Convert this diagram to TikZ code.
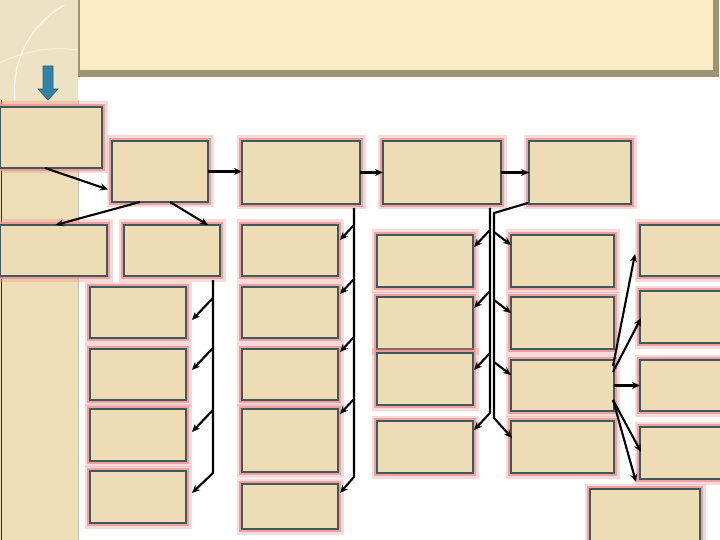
\documentclass[tikz,border=0pt]{standalone}
\usetikzlibrary{arrows.meta,calc}
\definecolor{cellfill}{RGB}{238,220,180}
\definecolor{cellline}{RGB}{62,90,94}
\definecolor{glow}{RGB}{240,150,150}
\definecolor{stripfill}{RGB}{238,222,184}
\definecolor{panelfill}{RGB}{238,226,196}
\definecolor{bannerfill}{RGB}{252,236,198}
\definecolor{bannershade}{RGB}{160,146,116}
\definecolor{arrowblue}{RGB}{48,132,172}
\begin{document}
\begin{tikzpicture}[x=1pt,y=-1pt,
  cell/.style={draw=cellline, line width=1.8pt, fill=cellfill, inner sep=0pt, outer sep=0pt,
    minimum width=96, minimum height=51,
    preaction={draw=glow, line width=11pt, opacity=0.35},
    preaction={draw=glow, line width=6pt, opacity=0.85}},
  arr/.style={line width=2.1pt, -{Stealth[length=8pt,width=7pt]}}]
\useasboundingbox (0,0) rectangle (720,540);
\fill[white] (0,0) rectangle (720,540);
\fill[stripfill] (0,0) rectangle (78,540);
\fill[panelfill] (0,0) rectangle (78,100);
\begin{scope}
  \clip (0,0) rectangle (78,100);
  \draw[white, opacity=0.7, line width=1.2pt] (15,100) arc[start angle=174, end angle=241, radius=97];
  \draw[white, opacity=0.5, line width=1pt] (0,63) arc[start angle=243, end angle=280, radius=131];
\end{scope}
\draw[black!70!brown, line width=1pt] (1,100) -- (1,540);
\draw[bannershade!60, line width=1pt] (78,100) -- (78,540);
\fill[bannershade] (78,0) rectangle (719,77);
\fill[bannerfill] (80,0) rectangle (713,70);
\fill[arrowblue, draw=cellline, line width=0.6pt] (43,66) -- (53,66) -- (53,89) -- (58,89) -- (48,100) -- (38,89) -- (43,89) -- cycle;

\node[cell, minimum width=102, minimum height=61] (A) at (51,137.5) {};
\node[cell, minimum height=61] (B) at (160,171.5) {};
\node[cell, minimum width=118, minimum height=63] (C) at (301,172.5) {};
\node[cell, minimum width=118, minimum height=63] (D) at (442,172.5) {};
\node[cell, minimum width=102, minimum height=63] (E) at (580,172.5) {};

\node[cell, minimum width=107] (F) at (53.5,250.5) {};
\node[cell] (G) at (172,250.5) {};
\node[cell] (L1) at (138,312.5) {};
\node[cell] (L2) at (138,374.5) {};
\node[cell, minimum height=52] (L3) at (138,435) {};
\node[cell, minimum height=52] (L4) at (138,497) {};

\node[cell] (H1) at (290,250.5) {};
\node[cell] (H2) at (290,312.5) {};
\node[cell] (H3) at (290,374.5) {};
\node[cell, minimum height=63] (H4) at (290,440.5) {};
\node[cell, minimum height=45] (H5) at (290,506.5) {};

\node[cell, minimum height=52] (I1) at (425,261) {};
\node[cell, minimum height=52] (I2) at (425,323) {};
\node[cell, minimum height=52] (I3) at (425,379) {};
\node[cell, minimum height=52] (I4) at (425,447) {};

\node[cell, minimum width=103, minimum height=52] (J1) at (562.5,261) {};
\node[cell, minimum width=103, minimum height=52] (J2) at (562.5,323) {};
\node[cell, minimum width=103] (J3) at (562.5,385.5) {};
\node[cell, minimum width=103, minimum height=52] (J4) at (562.5,447) {};

\node[cell, minimum width=84] (K1) at (682,250.5) {};
\node[cell, minimum width=84, minimum height=52] (K2) at (682,317) {};
\node[cell, minimum width=84] (K3) at (682,385.5) {};
\node[cell, minimum width=84, minimum height=52] (K4) at (682,453) {};
\node[cell, minimum width=110, minimum height=56] (M) at (645,517) {};

\draw[arr] ([xshift=-6pt]A.south) -- ($(B.west)+(-4,18)$);
\draw[arr] (B.east) -- (B.east -| C.west);
\draw[arr] (C.east) -- (D.west);
\draw[arr] (D.east) -- (E.west);
\draw[arr] ($(B.south)+(-20,0)$) -- ($(F.north)+(2,0)$);
\draw[arr] ($(B.south)+(10,0)$) -- ($(G.north)+(36,0)$);

\coordinate (gtop) at (213,280);
\coordinate (gbot) at (213,473);
\draw[arr] (gtop) -- (gbot) -- ($(L4.north east)+(6,22)$);
\foreach \b/\dy in {L1/33, L2/21, L3/23}
  \draw[arr] ($(\b.north east)+(27,\dy-22)$) -- ($(\b.north east)+(6,\dy)$);

\coordinate (htop) at (354,208);
\coordinate (hbot) at (354,477);
\draw[arr] (htop) -- (hbot) -- ($(H5.north east)+(2,9)$);
\foreach \b/\dy in {H1/15, H2/7, H3/3, H4/5}
  \draw[arr] ($(\b.north east)+(16,\dy-15)$) -- ($(\b.north east)+(2,\dy)$);

\coordinate (dtop) at (490,208);
\coordinate (dbot) at (490,413);
\draw[arr] (dtop) -- (dbot) -- ($(I4.north east)+(1,9)$);
\foreach \b/\dy in {I1/12, I2/11, I3/17}
  \draw[arr] ($(\b.north east)+(17,\dy-17)$) -- ($(\b.north east)+(1,\dy)$);

\coordinate (etop) at (494,213);
\coordinate (ebot) at (494,418);
\draw[arr] ($(E.south west)+(-1,-1)$) -- (etop) -- (ebot) -- ($(J4.north west)+(1,17)$);
\foreach \b/\dy in {J1/10, J2/16, J3/15}
  \draw[arr] ($(\b.north west)+(-17,\dy-13)$) -- ($(\b.north west)+(0,\dy)$);

\draw[arr] ($(J3.north east)+(-1,6)$) -- ($(K1.south west)+(-5,-22)$);
\draw[arr] ($(J3.north east)+(-1,12)$) -- ($(K2.west)+(1,1)$);
\draw[arr] (J3.east) -- (K3.west);
\draw[arr] ($(J3.south east)+(-1,-11)$) -- ($(K4.west)+(1,-1)$);
\draw[arr] ($(J3.south east)+(-1,-11)$) -- ($(M.north)+(-9,-7)$);
\end{tikzpicture}
\end{document}
